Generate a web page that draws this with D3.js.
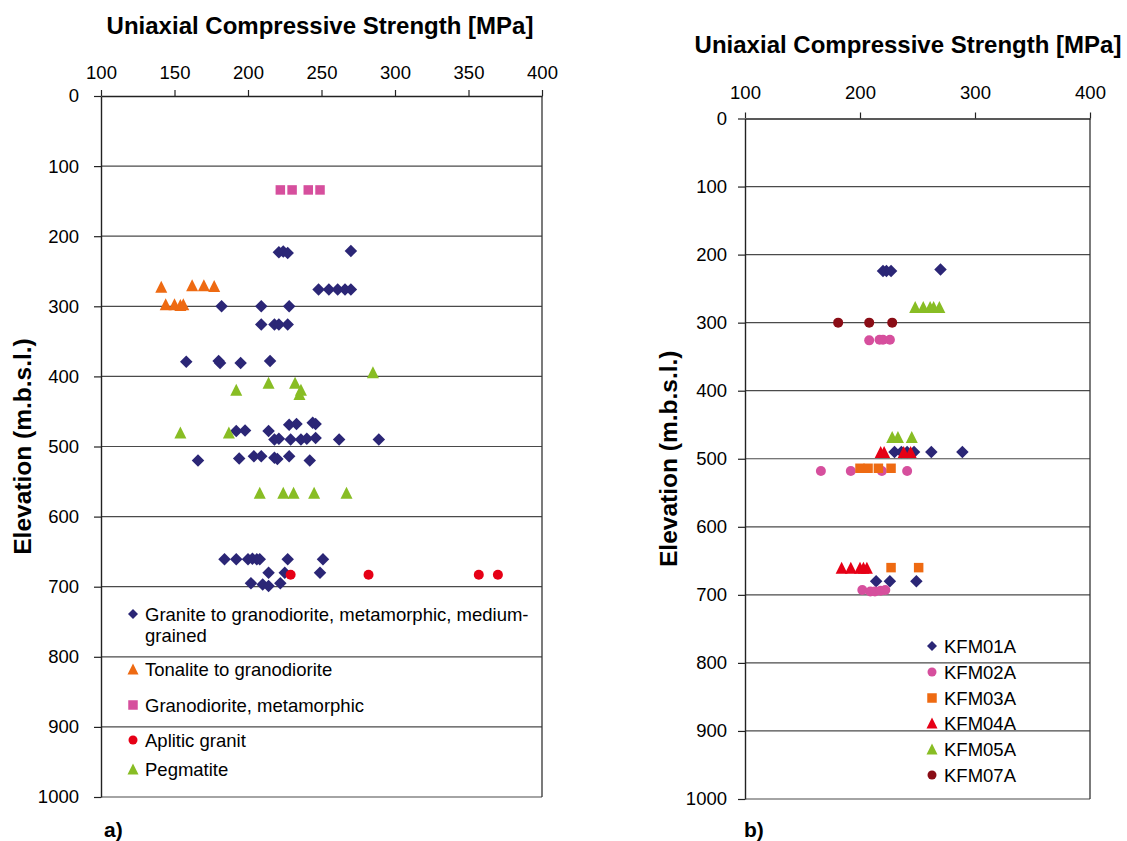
<!DOCTYPE html>
<html>
<head>
<meta charset="utf-8">
<script src="https://cdn.jsdelivr.net/npm/d3@7/dist/d3.min.js"></script>
<style>
  html, body { margin: 0; padding: 0; background: #fff; }
  svg { display: block; }
  text { font-family: "Liberation Sans", Arial, sans-serif; fill: #000; }
</style>
</head>
<body>
<svg id="chart" width="1127" height="841"></svg>
<script>
// ---- shared axis values ----
const strengthTicksA = [100, 150, 200, 250, 300, 350, 400];
const strengthTicksB = [100, 200, 300, 400];
const elevationTicks = [0, 100, 200, 300, 400, 500, 600, 700, 800, 900, 1000];

// ---- panel a) rock types: [strength MPa, elevation m.b.s.l.] ----
const graniteMedium = [
  [221, 223], [224, 222], [227, 224], [270, 221],
  [248, 276], [255, 276], [261, 276], [266, 276], [270, 276],
  [182, 300], [209, 300], [228, 300],
  [209, 326], [218, 326], [221, 326], [227, 326],
  [158, 379], [180, 378], [181, 381], [195, 381], [215, 378],
  [228, 469], [233, 468], [244, 466], [246, 468],
  [192, 478], [198, 477], [214, 478],
  [218, 490], [221, 489], [229, 490], [236, 490], [240, 489], [246, 488], [262, 490], [289, 490],
  [166, 520], [194, 517], [204, 514], [209, 514], [218, 516], [220, 518], [228, 514], [242, 520],
  [184, 661], [192, 661], [200, 661], [203, 660], [206, 661], [208, 661], [227, 661], [251, 661],
  [214, 680], [225, 680], [249, 680],
  [202, 695], [210, 697], [214, 699], [222, 695]
];
const tonalite = [
  [141, 272], [162, 270], [170, 270], [177, 271],
  [144, 297], [150, 297], [154, 298], [156, 297]
];
const granodioriteMeta = [[222, 134], [230, 134], [241, 134], [249, 134]];
const apliticGranite = [[229, 683], [282, 683], [357, 683], [370, 683]];
const pegmatite = [
  [285, 394], [192, 419], [214, 409], [232, 409], [236, 419], [235, 425],
  [154, 480], [187, 480],
  [208, 566], [224, 566], [231, 566], [245, 566], [267, 566]
];

// ---- panel b) boreholes ----
const kfm01a = [
  [220, 224], [223, 224], [227, 224], [270, 222],
  [230, 490], [236, 490], [241, 490], [247, 490], [262, 490], [289, 490],
  [214, 680], [226, 680], [249, 680]
];
const kfm02a = [
  [208, 326], [217, 325], [220, 325], [226, 325],
  [166, 518], [192, 518], [219, 518], [241, 518],
  [202, 693], [209, 695], [213, 695], [218, 694], [222, 693]
];
const kfm03a = [[200, 514], [207, 514], [216, 514], [227, 514], [227, 660], [251, 660]];
const kfm04a = [
  [218, 490], [221, 490], [238, 490], [244, 490],
  [184, 660], [192, 660], [200, 660], [203, 660], [206, 660]
];
const kfm05a = [
  [248, 277], [255, 277], [261, 277], [264, 277], [269, 277],
  [228, 468], [233, 468], [245, 468]
];
const kfm07a = [[181, 300], [208, 300], [228, 300]];

// ---- marker shapes (size = width squared) ----
const shapes = {
  diamond: { draw(c, s) { const r = Math.sqrt(s) / 2; c.moveTo(0, -r); c.lineTo(r, 0); c.lineTo(0, r); c.lineTo(-r, 0); c.closePath(); } },
  triangle: { draw(c, s) { const w = Math.sqrt(s); c.moveTo(0, -w / 2); c.lineTo(w / 2, w / 2); c.lineTo(-w / 2, w / 2); c.closePath(); } },
  square: { draw(c, s) { const w = Math.sqrt(s); c.rect(-w / 2, -w / 2, w, w); } },
  circle: { draw(c, s) { const r = Math.sqrt(s) / 2; c.moveTo(r, 0); c.arc(0, 0, r, 0, 2 * Math.PI); } }
};
const plotWidth = { diamond: 12.5, triangle: 12, square: 9.5, circle: 10 };
const legendWidth = { diamond: 10, triangle: 11, square: 9.5, circle: 9 };

const colors = {
  navy: "#2b2676", orange: "#ee6a12", pink: "#d64f9d", red: "#e60016",
  green: "#88bd24", maroon: "#8a0d16"
};

const seriesA = [
  { name: ["Granite to granodiorite, metamorphic, medium-", "grained"], data: graniteMedium, shape: "diamond", color: colors.navy, ly: 614 },
  { name: ["Tonalite to granodiorite"], data: tonalite, shape: "triangle", color: colors.orange, ly: 669 },
  { name: ["Granodiorite, metamorphic"], data: granodioriteMeta, shape: "square", color: colors.pink, ly: 705 },
  { name: ["Aplitic granit"], data: apliticGranite, shape: "circle", color: colors.red, ly: 740 },
  { name: ["Pegmatite"], data: pegmatite, shape: "triangle", color: colors.green, ly: 769 }
];
const seriesB = [
  { name: ["KFM01A"], data: kfm01a, shape: "diamond", color: colors.navy, ly: 646 },
  { name: ["KFM02A"], data: kfm02a, shape: "circle", color: colors.pink, ly: 672 },
  { name: ["KFM03A"], data: kfm03a, shape: "square", color: colors.orange, ly: 698 },
  { name: ["KFM04A"], data: kfm04a, shape: "triangle", color: colors.red, ly: 723 },
  { name: ["KFM05A"], data: kfm05a, shape: "triangle", color: colors.green, ly: 749 },
  { name: ["KFM07A"], data: kfm07a, shape: "circle", color: colors.maroon, ly: 775 }
];

const svg = d3.select("#chart");
const FONT = "'Liberation Sans', Arial, sans-serif";

function drawPanel(cfg) {
  const x = d3.scaleLinear().domain([100, 400]).range([cfg.left, cfg.right]);
  const y = d3.scaleLinear().domain([0, 1000]).range([cfg.top, cfg.bottom]);
  const g = svg.append("g");

  // horizontal gridlines
  g.append("g").selectAll("line").data(elevationTicks.slice(1)).join("line")
    .attr("x1", cfg.left).attr("x2", cfg.right)
    .attr("y1", d => y(d)).attr("y2", d => y(d))
    .attr("stroke", "#4a4a4a").attr("stroke-width", 1.2);

  // right border
  g.append("line")
    .attr("x1", cfg.right).attr("x2", cfg.right)
    .attr("y1", cfg.top).attr("y2", cfg.bottom)
    .attr("stroke", "#333").attr("stroke-width", 1.3);

  // top (strength) axis
  const xAxis = g.append("g").attr("transform", `translate(0,${cfg.top})`)
    .call(d3.axisTop(x).tickValues(cfg.xTicks).tickFormat(d3.format("d"))
      .tickSize(6).tickPadding(cfg.xPad).tickSizeOuter(0));
  // left (elevation) axis
  const yAxis = g.append("g").attr("transform", `translate(${cfg.left},0)`)
    .call(d3.axisLeft(y).tickValues(elevationTicks).tickFormat(d3.format("d"))
      .tickSize(7).tickPadding(cfg.yPad).tickSizeOuter(0));
  [xAxis, yAxis].forEach(a => {
    a.select(".domain").attr("stroke", "#222").attr("stroke-width", 1.4);
    a.selectAll(".tick line").attr("stroke", "#222").attr("stroke-width", 1.2);
    a.selectAll(".tick text").style("font-family", FONT)
      .style("font-size", "18.5px").attr("fill", "#000");
  });

  // axis titles
  g.append("text").attr("x", cfg.titleX).attr("y", cfg.titleY)
    .attr("text-anchor", "middle").style("font-size", "24px").style("font-weight", "bold")
    .text("Uniaxial Compressive Strength [MPa]");
  g.append("text")
    .attr("transform", `translate(${cfg.yTitleX},${(cfg.top + cfg.bottom) / 2}) rotate(-90)`)
    .attr("text-anchor", "middle").style("font-size", "24.5px").style("font-weight", "bold")
    .text("Elevation (m.b.s.l.)");
  g.append("text").attr("x", cfg.tagX).attr("y", 837)
    .style("font-size", "21px").style("font-weight", "bold").text(cfg.tag);

  // data markers
  cfg.series.forEach(s => {
    const sym = d3.symbol().type(shapes[s.shape]).size(plotWidth[s.shape] ** 2);
    g.append("g").selectAll("path").data(s.data).join("path")
      .attr("transform", d => `translate(${x(d[0])},${y(d[1])})`)
      .attr("d", sym)
      .attr("fill", s.color);
  });

  // legend
  const lg = g.append("g");
  cfg.series.forEach(s => {
    const sym = d3.symbol().type(shapes[s.shape]).size(legendWidth[s.shape] ** 2);
    lg.append("path").attr("transform", `translate(${cfg.legendX},${s.ly})`)
      .attr("d", sym).attr("fill", s.color);
    s.name.forEach((line, i) => {
      lg.append("text").attr("x", cfg.legendX + 12).attr("y", s.ly + 6.5 + i * 21)
        .style("font-size", "18.5px").text(line);
    });
  });
}

drawPanel({
  left: 101, right: 542, top: 96, bottom: 797,
  xTicks: strengthTicksA, xPad: 11, yPad: 15,
  titleX: 320, titleY: 34, yTitleX: 31, tag: "a)", tagX: 104,
  series: seriesA, legendX: 133
});

drawPanel({
  left: 745, right: 1090, top: 118.5, bottom: 799,
  xTicks: strengthTicksB, xPad: 14, yPad: 11,
  titleX: 908, titleY: 53, yTitleX: 677, tag: "b)", tagX: 744,
  series: seriesB, legendX: 932
});
</script>
</body>
</html>
